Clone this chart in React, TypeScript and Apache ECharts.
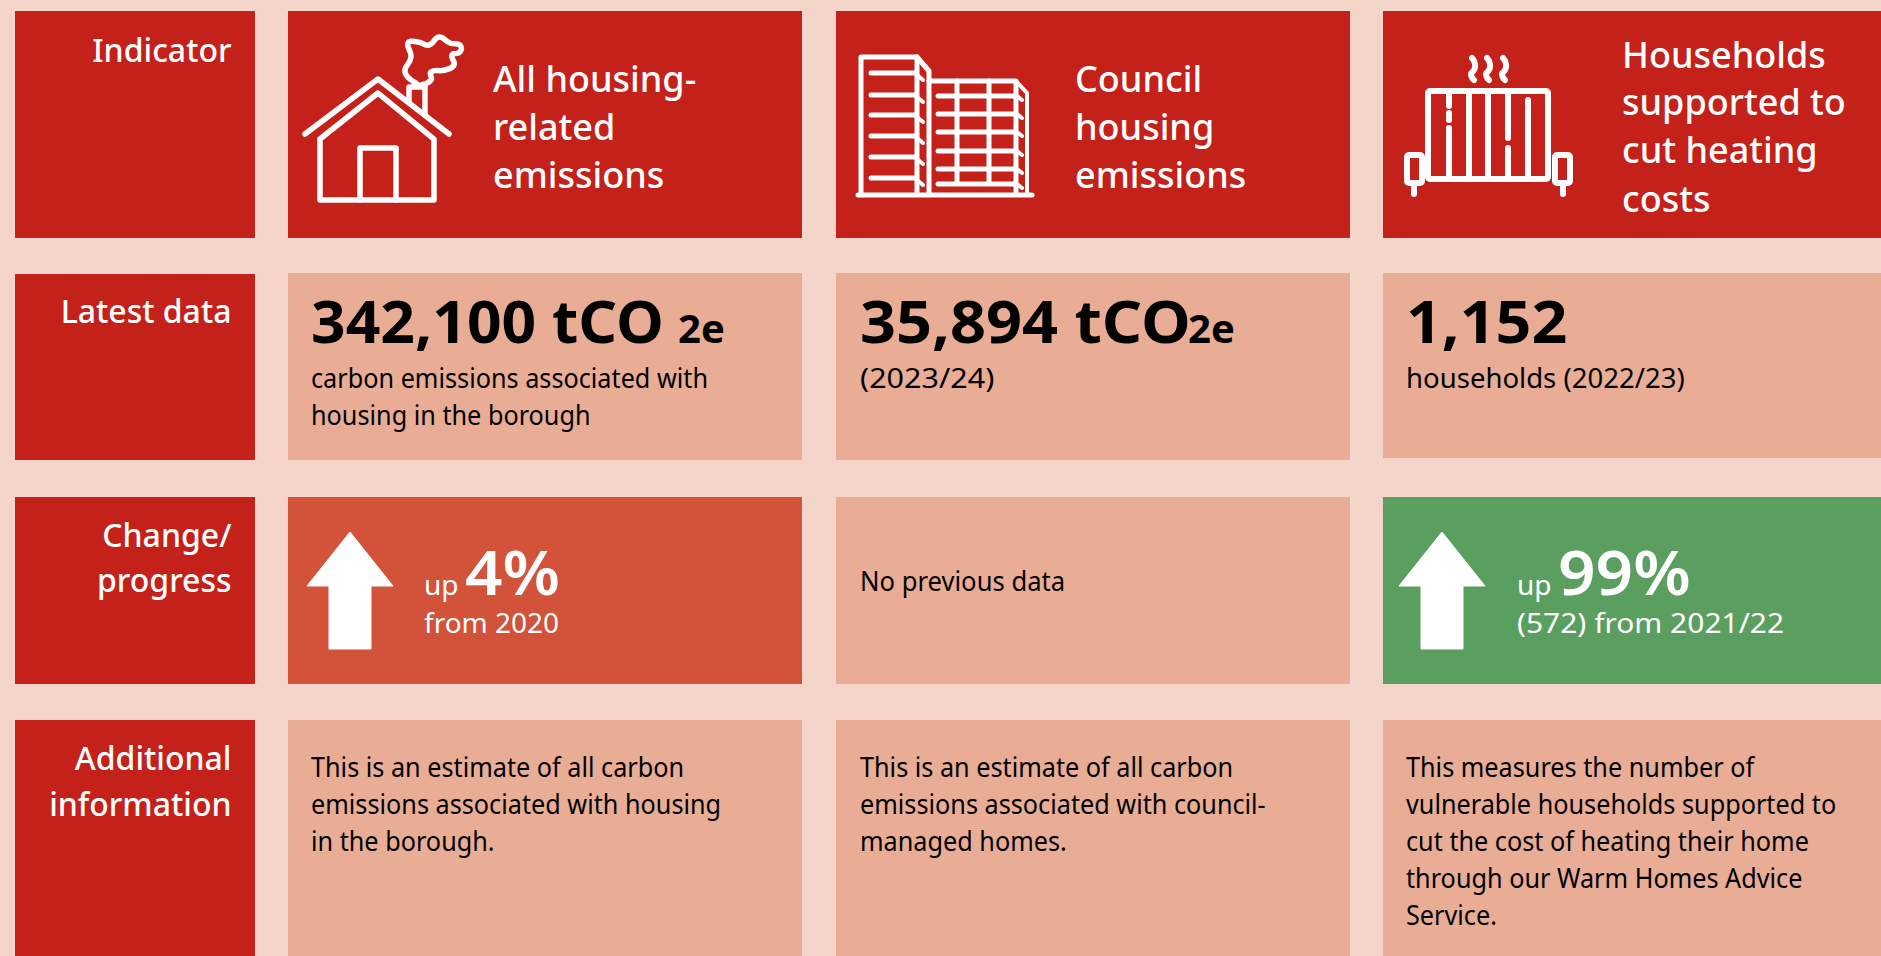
import React, { useEffect, useRef } from "react";
import * as echarts from "echarts";

const rowLabels = [["Indicator"], ["Latest data"], ["Change/", "progress"], ["Additional", "information"]];
const indicatorTitles = [
  ["All housing-", "related", "emissions"],
  ["Council", "housing", "emissions"],
  ["Households", "supported to", "cut heating", "costs"],
];
const latestValues = ["342,100 tCO", "35,894 tCO", "1,152"];
const latestUnits = ["2e", "2e", ""];
const latestNotes = [
  ["carbon emissions associated with", "housing in the borough"],
  ["(2023/24)"],
  ["households (2022/23)"],
];
const changeNote = "No previous data";
const changeUp = "up";
const changePercents = ["4%", "99%"];
const changeFrom = ["from 2020", "(572) from 2021/22"];
const additional = [
  ["This is an estimate of all carbon", "emissions associated with housing", "in the borough."],
  ["This is an estimate of all carbon", "emissions associated with council-", "managed homes."],
  [
    "This measures the number of",
    "vulnerable households supported to",
    "cut the cost of heating their home",
    "through our Warm Homes Advice",
    "Service.",
  ],
];

const BG = "#F4D5C9";
const RED = "#C4211A";
const LIGHT = "#E9AD95";
const ORANGE = "#D2523A";
const GREEN = "#5A9F5F";
const FONT = '"Noto Sans", sans-serif';

const rect = (x: number, y: number, w: number, h: number, fill: string) => ({
  type: "rect", shape: { x, y, width: w, height: h }, style: { fill },
});
// zrender draws top-aligned text with a central dominant baseline; 0.888em puts the Noto Sans baseline on `base`.
const txt = (
  text: string, x: number, base: number, size: number, fill: string,
  weight: number | string = 400, align = "left", sx = 1,
) => ({
  type: "text", x, y: base - 0.888 * size, scaleX: sx, originX: 0, originY: 0,
  style: { text, fill, font: `${weight} ${size}px ${FONT}`, textAlign: align },
});
const stroke = (lw: number) => ({ stroke: "#fff", lineWidth: lw, fill: "none", lineCap: "round", lineJoin: "round" });
const line = (a: number, b: number, c: number, d: number, lw = 5) => ({
  type: "line", shape: { x1: a, y1: b, x2: c, y2: d }, style: stroke(lw),
});
const poly = (pts: number[][], lw = 5, smooth = 0) => ({
  type: "polyline", shape: { points: pts, smooth }, style: stroke(lw),
});
const arrow = (x0: number, x1: number, s0: number, s1: number) => ({
  type: "polygon",
  shape: { points: [[(x0 + x1) / 2, 532], [x1, 586], [s1, 586], [s1, 649], [s0, 649], [s0, 586], [x0, 586]] },
  style: { fill: "#fff", stroke: "#fff", lineWidth: 1, lineJoin: "round" },
});

function buildGraphics() {
  const els: any[] = [];
  const cols = [[288, 514], [836, 514], [1383, 498]];
  const rows: [number, number][] = [[11, 227], [273, 187], [497, 187], [720, 236]];
  els.push(rect(15, 11, 240, 227, RED), rect(15, 274, 240, 186, RED), rect(15, 497, 240, 187, RED), rect(15, 720, 240, 236, RED));
  cols.forEach(([x, w], i) => {
    els.push(rect(x, rows[0][0], w, rows[0][1], RED));
    els.push(rect(x, rows[1][0], w, i === 2 ? 185 : rows[1][1], LIGHT));
    els.push(rect(x, rows[2][0], w, rows[2][1], i === 0 ? ORANGE : i === 1 ? LIGHT : GREEN));
    els.push(rect(x, rows[3][0], w, rows[3][1], LIGHT));
  });
  // row labels
  const labelBases = [[62], [323], [547, 592], [770, 816]];
  rowLabels.forEach((ls, i) =>
    ls.forEach((t, j) => els.push(txt(t, 231.5, labelBases[i][j], 32, "#fff", 500, "right"))),
  );
  // indicator titles
  const titleX = [493, 1075, 1622];
  const titleBases = [[92, 140, 188], [92, 140, 188], [68, 115, 163, 212]];
  indicatorTitles.forEach((ls, i) =>
    ls.forEach((t, j) => els.push(txt(t, titleX[i], titleBases[i][j], 36, "#fff", 500))),
  );
  // latest data
  const valueX = [311, 860, 1406];
  const unitX = [678, 1188, 0];
  const valueScale = [1.01, 1.05, 1.045];
  const noteScale = [[0.935, 0.935], [1.13], [1.02]];
  latestValues.forEach((t, i) => {
    els.push(txt(t, valueX[i], 343, 60, "#000", 700, "left", valueScale[i]));
    if (latestUnits[i]) els.push(txt(latestUnits[i], unitX[i], 343, 40, "#000", 700));
    latestNotes[i].forEach((n, j) => els.push(txt(n, valueX[i], 388 + j * 37, 27, "#000", 400, "left", noteScale[i][j])));
  });
  // change
  els.push(arrow(307, 393, 329, 371), arrow(1399, 1485, 1421, 1463));
  const upX = [424, 1517];
  const pctX = [465, 1558];
  const fromScale = [1, 1.07];
  changePercents.forEach((p, i) => {
    els.push(txt(changeUp, upX[i], 595, 28, "#fff"));
    els.push(txt(p, pctX[i], 595, 62, "#fff", 600, "left", 1.06));
    els.push(txt(changeFrom[i], upX[i], 633, 28, "#fff", 400, "left", fromScale[i]));
  });
  els.push(txt(changeNote, 860, 591, 27, "#000", 400, "left", 0.95));
  // additional
  additional.forEach((ls, i) =>
    ls.forEach((t, j) => els.push(txt(t, valueX[i], 777 + j * 37, 27, "#000", 400, "left", 0.935))),
  );
  // house icon
  els.push(poly([[305, 134], [378, 79], [449, 134]], 5.5));
  els.push(poly([[320, 139], [378, 93], [434, 139], [434, 200], [320, 200], [320, 139]], 5.5));
  els.push(poly([[360, 200], [360, 148], [396, 148], [396, 200]], 5.5));
  els.push(poly([[409, 103], [409, 87], [425, 87], [425, 115]], 5.5));
  els.push(
    poly(
      [[416, 83], [405, 72], [411, 57], [408, 43], [418, 42], [429, 45], [439, 37], [450, 43], [460, 45], [460, 52], [452, 55], [454, 65], [445, 70], [431, 72], [431, 80], [421, 85]],
      5.5, 0.5,
    ),
  );
  // buildings icon
  els.push(poly([[861, 193], [861, 57], [917, 57], [917, 193]], 5));
  els.push(poly([[917, 57], [929, 71], [929, 193]], 5));
  [73, 95, 115, 136, 157, 178].forEach((y) => {
    els.push(line(871, y, 916, y));
    els.push(line(917, y + 2, 923, y + 7, 4));
  });
  els.push(poly([[929, 81], [1016, 81], [1016, 193]], 5));
  els.push(poly([[1016, 81], [1027, 93], [1027, 192]], 4));
  [96, 114, 132, 151, 169, 184].forEach((y) => {
    els.push(line(938, y, 1016, y));
    els.push(line(1017, y, 1022, y + 4, 4));
  });
  els.push(line(957, 81, 957, 182), line(989, 81, 989, 182));
  els.push(line(858, 195, 1032, 195, 5));
  // radiator icon
  els.push({ type: "rect", shape: { x: 1428, y: 91, width: 120, height: 88, r: 2 }, style: stroke(6) });
  [[1449, 94, 106], [1449, 113, 120], [1449, 128, 177], [1469, 91, 177], [1488, 91, 177], [1508, 93, 138], [1508, 148, 177], [1528, 100, 177]].forEach(
    ([x, a, b]) => els.push(line(x, a, x, b, 6)),
  );
  [[1407, 1422, 1414], [1555, 1570, 1563]].forEach(([a, b, f]) => {
    els.push({ type: "rect", shape: { x: a, y: 155, width: b - a, height: 28, r: 2 }, style: stroke(6) });
    els.push(line(f, 183, f, 194, 6));
  });
  [1472, 1487, 1503].forEach((x) =>
    els.push(poly([[x, 58], [x + 3, 64], [x + 2, 70], [x - 1, 74], [x + 2, 80]], 6, 0.6)),
  );
  return els;
}

export default function App() {
  const ref = useRef<HTMLDivElement>(null);
  useEffect(() => {
    document.body.style.margin = "0";
    document.body.style.overflow = "hidden";
    const chart = echarts.init(ref.current!, undefined, { renderer: "svg" });
    chart.setOption({ animation: false, backgroundColor: BG, graphic: { elements: buildGraphics() } });
    return () => chart.dispose();
  }, []);
  return <div ref={ref} style={{ width: 1881, height: 956, position: "absolute", left: 0, top: 0 }} />;
}
